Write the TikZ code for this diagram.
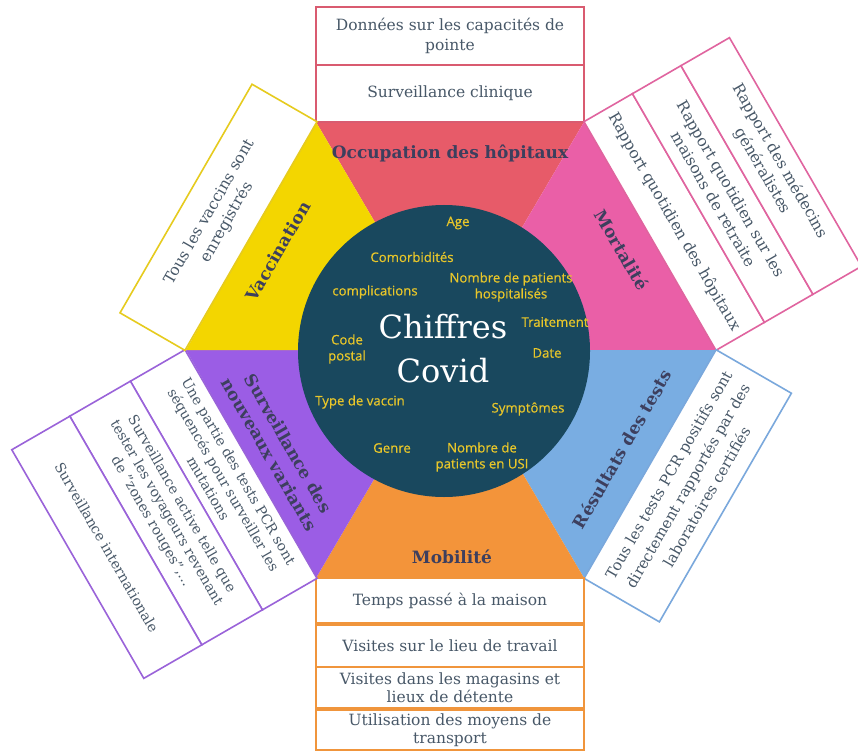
\documentclass[tikz,border=0pt]{standalone}
\usepackage{fontspec}
\setmainfont{DejaVu Serif}
\newfontfamily\wordfont[FakeBold=0.6]{Open Sans}

\definecolor{occred}{HTML}{E75B69}
\definecolor{mortpink}{HTML}{EA5FA7}
\definecolor{testblue}{HTML}{79ADE2}
\definecolor{mobiorange}{HTML}{F3943A}
\definecolor{varpurple}{HTML}{9B5DE5}
\definecolor{vacyellow}{HTML}{F3D600}
\definecolor{redline}{HTML}{D95B70}
\definecolor{pinkline}{HTML}{E0649F}
\definecolor{blueline}{HTML}{7AA8DC}
\definecolor{orangeline}{HTML}{F0953C}
\definecolor{purpleline}{HTML}{9A63D9}
\definecolor{yellowline}{HTML}{E6CB1E}
\definecolor{hubfill}{HTML}{19485E}
\definecolor{wordyellow}{HTML}{E8C62A}
\definecolor{labeltext}{HTML}{3D3F5E}
\definecolor{boxtext}{HTML}{485868}

\tikzset{
  card/.style={rectangle, draw=#1, line width=1.6pt, fill=white,
    inner sep=0pt, outer sep=0pt, align=center, text=boxtext,
    font=\fontsize{15.5}{20}\selectfont},
  topcard/.style={card=#1, minimum width=268pt},
  sidecard/.style={card=#1, minimum width=264pt},
  sidelabel/.style={font=\bfseries\fontsize{17}{22}\selectfont,
    text=labeltext, align=center, inner sep=0pt},
  word/.style={font=\wordfont\fontsize{13.2}{16}\selectfont,
    text=wordyellow, align=center, inner sep=0pt},
}

\begin{document}
\begin{tikzpicture}[x=1pt,y=-1pt]
  \fill[white] (0,0) rectangle (858,751);
  \useasboundingbox (0,0) rectangle (858,751);

  % hexagon corners and centre
  \coordinate (H)  at (450,350);
  \coordinate (T1) at (316,122);
  \coordinate (T2) at (584,122);
  \coordinate (R)  at (716,350);
  \coordinate (B2) at (584,578);
  \coordinate (B1) at (316,578);
  \coordinate (L)  at (186,350);

  % six coloured sectors
  \fill[occred]     (H) -- (T1) -- (T2) -- cycle;
  \fill[mortpink]   (H) -- (T2) -- (R)  -- cycle;
  \fill[testblue]   (H) -- (R)  -- (B2) -- cycle;
  \fill[mobiorange] (H) -- (B2) -- (B1) -- cycle;
  \fill[varpurple]  (H) -- (B1) -- (L)  -- cycle;
  \fill[vacyellow]  (H) -- (L)  -- (T1) -- cycle;

  % sector titles
  \node[sidelabel] (occ)  at (450,153) {Occupation des hôpitaux};
  \node[sidelabel, rotate=-60] (mort) at (622,250) {Mortalité};
  \node[sidelabel, rotate=60]  (res)  at (622,449) {Résultats des tests};
  \node[sidelabel] (mob)  at (452,557) {Mobilité};
  \node[sidelabel, rotate=-60] (var)  at (279,449) {Surveillance des\\nouveaux variants};
  \node[sidelabel, rotate=60]  (vac)  at (278,251) {Vaccination};

  % central disc
  \node[circle, fill=hubfill, minimum size=292pt, inner sep=0pt] (hub) at (444,351) {};
  \node[text=white, align=center, inner sep=0pt,
        font=\fontsize{32}{44}\selectfont] (title) at (443,349) {Chiffres\\Covid};

  \node[word] (w1)  at (458,223) {Age};
  \node[word] (w2)  at (412,257) {Comorbidités};
  \node[word] (w3)  at (511,287) {Nombre de patients\\hospitalisés};
  \node[word] (w4)  at (375,292) {complications};
  \node[word] (w5)  at (555,322) {Traitement};
  \node[word] (w6)  at (347,349) {Code\\postal};
  \node[word] (w7)  at (547,353) {Date};
  \node[word] (w8)  at (360,402) {Type de vaccin};
  \node[word] (w9)  at (528,409) {Symptômes};
  \node[word] (w10) at (392,448) {Genre};
  \node[word] (w11) at (482,457) {Nombre de\\patients en USI};

  % hospital occupancy sources
  \node[topcard=redline, minimum height=57pt] (occ1) at (450,93.5) {Surveillance clinique};
  \node[topcard=redline, minimum height=58pt] (occ2) at (450,36) {Données sur les capacités de\\pointe};

  % mortality sources
  \node[sidecard=pinkline, minimum height=56pt, rotate=-60] (mort1) at (674.2,222) {Rapport quotidien des hôpitaux};
  \node[sidecard=pinkline, minimum height=56pt, rotate=-60] (mort2) at (722.7,194) {Rapport quotidien sur les\\maisons de retraite};
  \node[sidecard=pinkline, minimum height=56pt, rotate=-60] (mort3) at (771.2,166) {Rapport des médecins\\généralistes};

  % test results source
  \node[sidecard=blueline, minimum height=87pt, rotate=60,
        font=\fontsize{15}{22}\selectfont] (res1) at (687.7,485.8)
        {Tous les tests PCR positifs sont\\directement rapportés par des\\laboratoires certifiés};

  % mobility sources
  \node[topcard=orangeline, minimum height=45pt] (mob1) at (450,600.5) {Temps passé à la maison};
  \node[topcard=orangeline, minimum height=42pt] (mob2) at (450,646) {Visites sur le lieu de travail};
  \node[topcard=orangeline, minimum height=41pt, font=\fontsize{15.5}{18}\selectfont] (mob3) at (450,687.5) {Visites dans les magasins et\\lieux de détente};
  \node[topcard=orangeline, minimum height=40pt, font=\fontsize{15.5}{18}\selectfont] (mob4) at (450,730) {Utilisation des moyens de\\transport};

  % variant surveillance sources
  \node[sidecard=purpleline, minimum height=63pt, rotate=-60,
        font=\fontsize{14}{17.5}\selectfont] (var1) at (223.7,479.8)
        {Une partie des tests PCR sont\\séquencés pour surveiller les\\mutations};
  \node[sidecard=purpleline, minimum height=70pt, rotate=-60,
        font=\fontsize{14}{17.5}\selectfont] (var2) at (166.1,513)
        {Surveillance active telle que\\tester les voyageurs revenant\\de "zones rouges",...};
  \node[sidecard=purpleline, minimum height=67pt, rotate=-60,
        font=\fontsize{14}{17.5}\selectfont] (var3) at (106.8,547.3)
        {Surveillance internationale};

  % vaccination source
  \node[sidecard=yellowline, minimum height=75pt, rotate=60] (vac1) at (218.5,217.3)
        {Tous les vaccins sont\\enregistrés};
\end{tikzpicture}
\end{document}
